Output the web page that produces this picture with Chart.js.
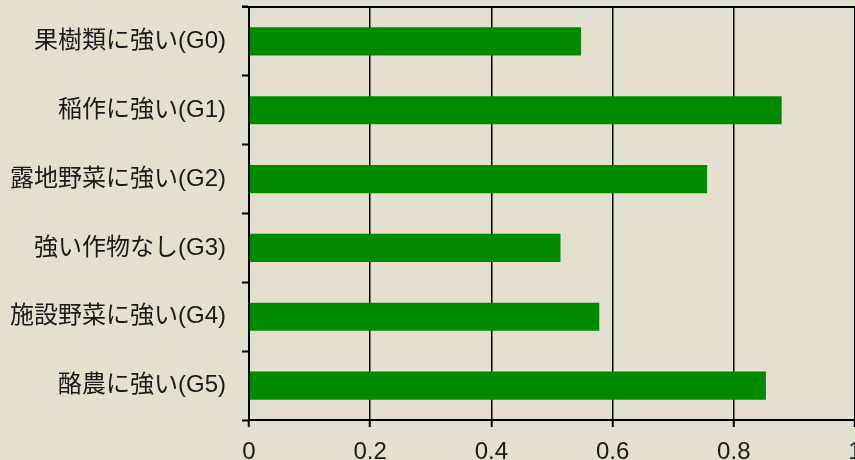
<!DOCTYPE html>
<html>
	<head>
		<meta charset="utf-8">
		<title>作物グループ</title>
		<script src="https://cdn.jsdelivr.net/npm/chart.js@4.4.0/dist/chart.umd.min.js"></script>
		<style>
			html, body { margin: 0; padding: 0; overflow: hidden; background: #e5dfd0; }
			#wrap { width: 855px; height: 460px; }
		</style>
	</head>
	<body>
		<div id="wrap"><canvas id="myChart" width="855" height="460"></canvas></div>
		<script>
			// dane
			let groups = ['果樹類に強い(G0)', '稲作に強い(G1)', '露地野菜に強い(G2)', '強い作物なし(G3)', '施設野菜に強い(G4)', '酪農に強い(G5)']
			let values = [0.548, 0.879, 0.756, 0.514, 0.578, 0.853]
			let xTicks = [0, 0.2, 0.4, 0.6, 0.8, 1]

			let fontFamily = '"Liberation Sans", Arial, "Noto Sans CJK JP", sans-serif'

			// linia u góry obszaru wykresu
			const topLine = {
				id: 'topLine',
				afterDraw (chart) {
					const ctx = chart.ctx
					const a = chart.chartArea
					ctx.save()
					ctx.strokeStyle = '#000'
					ctx.lineWidth = 2
					ctx.beginPath()
					ctx.moveTo(a.left - 7, a.top)
					ctx.lineTo(a.right, a.top)
					ctx.stroke()
					ctx.restore()
				}
			}

			var ctx = document.getElementById('myChart').getContext('2d');
			var chart = new Chart(ctx, {
				type: 'bar',
				data: {
					labels: groups,
					datasets: [{
						data: values,
						backgroundColor: '#008a00',
						borderWidth: 0,
						barPercentage: 0.41,
						categoryPercentage: 1.0
					}]
				},
				plugins: [topLine],
				options: {
					indexAxis: 'y',
					responsive: false,
					animation: false,
					layout: { padding: { top: 7, right: 0, left: 0, bottom: 0 } },
					plugins: {
						legend: { display: false },
						tooltip: { enabled: false }
					},
					scales: {
						x: {
							min: 0,
							max: 1,
							afterBuildTicks: (scale) => { scale.ticks = xTicks.map(v => ({ value: v })) },
							afterFit: (scale) => {
								scale.height = 40
								scale.paddingLeft = 0
								scale.paddingRight = 0
							},
							ticks: {
								color: '#1a1a1a',
								padding: 11,
								maxRotation: 0,
								font: { family: fontFamily, size: 24 },
								callback: (v) => String(v)
							},
							grid: {
								color: '#000',
								lineWidth: 1.5,
								tickLength: 7,
								tickColor: '#000',
								tickWidth: 2
							},
							border: { color: '#000', width: 2 }
						},
						y: {
							afterFit: (scale) => {
								scale.width = 249
								scale.paddingTop = 0
								scale.paddingBottom = 0
							},
							ticks: {
								color: '#1a1a1a',
								padding: 16,
								font: { family: fontFamily, size: 24 }
							},
							grid: {
								offset: true,
								drawOnChartArea: false,
								tickLength: 7,
								tickColor: '#000',
								tickWidth: 2
							},
							border: { color: '#000', width: 2 }
						}
					}
				}
			});
		</script>
	</body>
</html>
